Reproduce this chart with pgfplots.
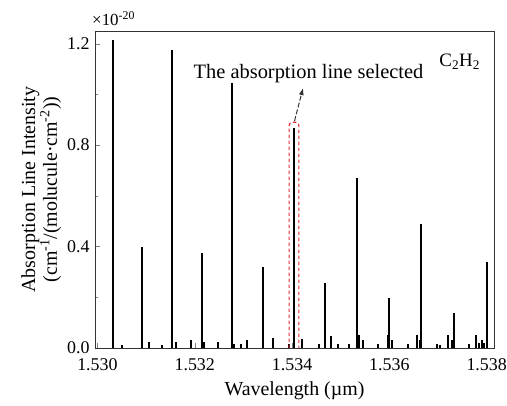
\documentclass[border=0pt]{standalone}
\usepackage{pgfplots}
\pgfplotsset{compat=1.18}
\usepackage{fontspec}
\setmainfont{Liberation Serif}
\usetikzlibrary{arrows.meta}
\definecolor{selred}{RGB}{225,45,50}
\begin{document}
\begin{tikzpicture}
\begin{axis}[
  name=ax,
  scale only axis,
  width=399bp, height=317bp,
  xmin=1.52995, xmax=1.53815,
  ymin=0, ymax=1.25,
  xtick={1.530,1.532,1.534,1.536,1.538},
  ytick={0,0.4,0.8,1.2},
  minor y tick num=1,
  tick pos=left,
  tick align=inside,
  major tick length=5bp, minor tick length=3bp,
  /pgf/number format/assume math mode=true,
  xticklabel style={yshift=-7bp, /pgf/number format/fixed, /pgf/number format/fixed zerofill, /pgf/number format/precision=3},
  yticklabel style={xshift=-2bp, /pgf/number format/fixed, /pgf/number format/fixed zerofill, /pgf/number format/precision=1},
  scaled x ticks=false, scaled y ticks=false,
  ticklabel style={font=\fontsize{18}{20}\selectfont},
  label style={font=\fontsize{20}{22}\selectfont},
  xlabel={Wavelength (µm)},
  ylabel={Absorption Line Intensity\\(cm\textsuperscript{-1}/(molucule·cm\textsuperscript{-2}))},
  ylabel style={align=center, yshift=-1bp},
  xlabel style={yshift=-4bp},
  axis line style={black!80, line width=0.8pt},
  clip=false,
]
% strong lines
\addplot[ycomb, black, line width=2bp, mark=none] coordinates {
(1.53031,1.216) (1.53154,1.176) (1.53277,1.046) (1.53404,0.868) (1.53533,0.671) (1.53665,0.49)
(1.53092,0.40) (1.53215,0.375) (1.53341,0.32) (1.53468,0.257) (1.53599,0.197) (1.53732,0.138) (1.53800,0.34)
};
% weak lines
\addplot[ycomb, black, line width=2bp, mark=none] coordinates {
(1.53051,0.012) (1.53106,0.022) (1.53133,0.012) (1.53162,0.022) (1.53193,0.03)
(1.53219,0.022) (1.53248,0.022) (1.53281,0.015) (1.53295,0.015) (1.53308,0.03)
(1.53341,0.02) (1.53361,0.04) (1.53394,0.015) (1.53420,0.035)
(1.53420,0.03) (1.53455,0.015) (1.53480,0.047) (1.53494,0.015) (1.53517,0.015)
(1.53538,0.05) (1.53546,0.03) (1.53576,0.015) (1.53597,0.05) (1.53605,0.03)
(1.53638,0.015) (1.53656,0.05) (1.53662,0.03) (1.53697,0.015) (1.53703,0.01)
(1.53720,0.05) (1.53728,0.03) (1.53763,0.015) (1.53779,0.05) (1.53785,0.02)
(1.53791,0.03) (1.53795,0.02)
};
% selection box
\draw[selred, line width=1.2pt, dash pattern=on 3.5bp off 2.5bp, rounded corners=3bp]
  (axis cs:1.53394,0) -- (axis cs:1.53394,0.89) -- (axis cs:1.53414,0.89) -- (axis cs:1.53414,0);
\draw[black!80, line width=1pt, dash pattern=on 5bp off 2bp, -{Latex[length=7bp,width=5bp]}]
  (axis cs:1.53405,0.895) -- (axis cs:1.534226,1.025);
\node[font=\fontsize{20.5}{22}\selectfont, inner sep=0pt] at (axis cs:1.534338,1.083) {The absorption line selected};
\node[font=\fontsize{19}{21}\selectfont, inner sep=0pt] at (axis cs:1.537446,1.13) {C\textsubscript{2}H\textsubscript{2}};
\node[font=\fontsize{17}{19}\selectfont, anchor=south west, inner sep=0pt] at ([xshift=-3bp,yshift=5bp]rel axis cs:0,1) {×10\textsuperscript{-20}};
\end{axis}
\pgfresetboundingbox
\path ([xshift=-95bp,yshift=-57bp]ax.south west) rectangle ([xshift=13bp,yshift=31bp]ax.north east);
\end{tikzpicture}
\end{document}
